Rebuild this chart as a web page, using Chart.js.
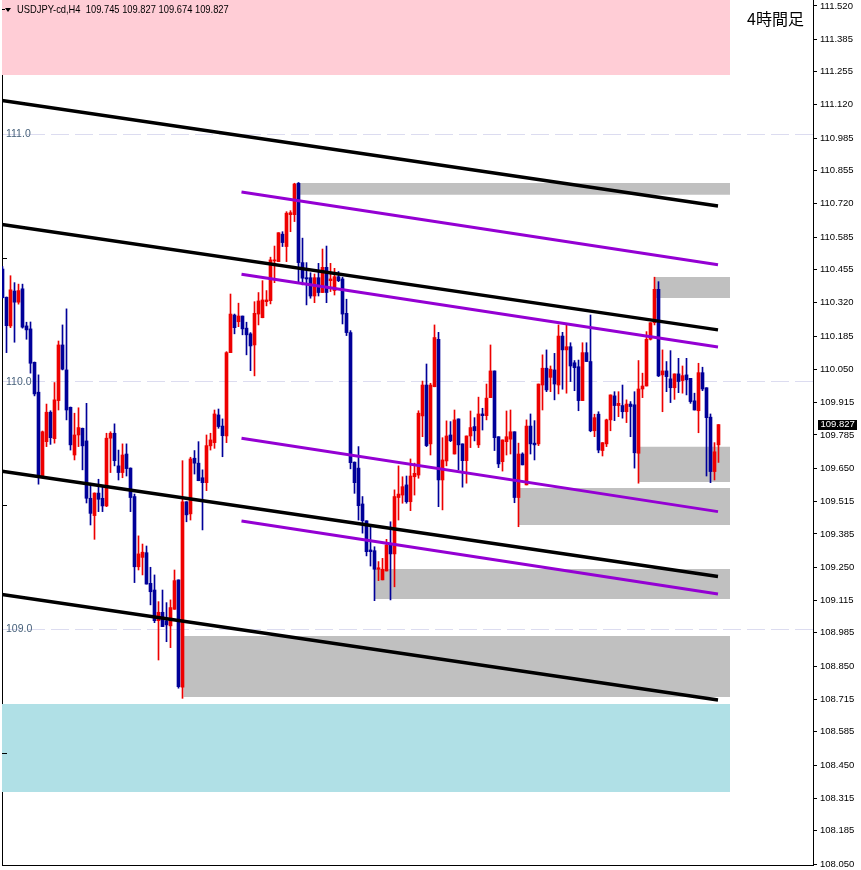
<!DOCTYPE html>
<html><head><meta charset="utf-8">
<script src="https://cdn.jsdelivr.net/npm/chart.js@4.4.1/dist/chart.umd.min.js"></script>
<style>html,body{margin:0;padding:0;background:#fff;}#wrap{position:relative;width:861px;height:870px;}</style>
</head><body><div id="wrap"><canvas id="c"></canvas></div>
<script>
// ---- candle data (USDJPY H4) ----
const openP = [110.456,110.342,110.226,110.367,110.322,110.376,110.226,110.214,110.079,109.958,
109.616,109.758,109.877,109.770,109.924,110.149,110.048,109.897,109.704,109.785,
109.812,109.761,109.529,109.459,109.550,109.529,109.498,109.772,109.792,109.660,
109.633,109.708,109.651,109.536,109.252,109.290,109.309,109.185,109.158,109.034,
109.068,109.034,109.013,109.080,109.199,108.765,109.515,109.466,109.691,109.671,
109.612,109.592,109.741,109.754,109.866,109.821,109.781,110.118,110.270,110.243,
110.266,110.217,110.194,110.149,110.274,110.259,110.324,110.328,110.489,110.486,
110.597,110.547,110.676,110.676,110.803,110.482,110.421,110.421,110.347,110.421,
110.361,110.463,110.409,110.369,110.425,110.416,110.277,110.199,109.675,109.651,
109.506,109.438,109.320,109.317,109.242,109.199,109.235,109.340,109.304,109.532,
109.542,109.583,109.515,109.616,109.623,109.862,109.987,109.749,109.980,110.172,
109.603,109.680,109.785,109.708,109.850,109.749,109.681,109.781,109.819,109.745,
109.870,109.863,109.936,110.044,109.778,109.677,109.758,109.768,109.798,109.532,
109.708,109.583,109.821,109.752,109.749,109.987,110.055,110.018,110.048,109.987,
110.185,110.129,110.142,110.077,110.061,109.924,110.118,110.082,109.802,109.869,
109.722,109.749,109.846,109.943,109.904,109.904,109.879,109.910,109.907,109.711,
109.971,109.983,110.172,110.239,110.374,110.028,110.044,110.012,109.976,110.032,
110.005,110.028,110.014,109.923,109.883,110.037,109.976,109.857,109.637,109.745];
const highP = [110.466,110.343,110.429,110.401,110.395,110.395,110.241,110.242,110.080,110.028,
109.801,109.910,109.883,109.997,110.165,110.230,110.295,109.898,109.873,109.895,
109.813,109.913,109.590,109.551,109.606,109.576,109.792,109.798,109.830,109.724,
109.749,109.749,109.652,109.546,109.377,109.344,109.336,109.250,109.219,109.111,
109.158,109.107,109.118,109.239,109.199,109.681,109.515,109.695,109.722,109.758,
109.644,109.785,109.792,109.886,109.890,109.850,110.122,110.355,110.274,110.318,
110.266,110.241,110.199,110.324,110.361,110.409,110.369,110.504,110.549,110.603,
110.607,110.688,110.692,110.803,110.806,110.581,110.482,110.441,110.436,110.479,
110.537,110.549,110.479,110.459,110.446,110.423,110.334,110.207,109.676,109.738,
109.536,109.438,109.414,109.333,109.273,109.286,109.363,109.434,109.563,109.660,
109.616,109.619,109.688,109.671,109.883,110.003,110.072,109.994,110.230,110.200,
109.774,109.842,109.839,109.886,109.850,109.749,109.781,109.882,109.855,109.938,
109.893,109.991,110.149,110.044,109.778,109.765,109.882,109.886,109.798,109.752,
109.713,109.846,109.870,109.843,109.991,110.109,110.129,110.064,110.115,110.230,
110.200,110.230,110.158,110.086,110.088,110.158,110.158,110.270,109.869,109.879,
109.754,109.849,109.947,109.960,109.960,109.987,109.927,109.920,109.960,110.086,
110.035,110.203,110.239,110.423,110.405,110.129,110.082,110.126,110.032,110.095,
110.064,110.095,110.014,109.954,110.075,110.059,109.976,109.870,109.754,109.827];
const lowP = [110.339,110.118,110.219,110.160,110.314,110.217,110.172,110.035,109.943,109.586,
109.615,109.738,109.747,109.752,109.886,110.048,109.846,109.724,109.684,109.738,
109.644,109.510,109.421,109.363,109.475,109.475,109.495,109.633,109.660,109.603,
109.612,109.619,109.475,109.188,109.239,109.219,109.182,109.098,109.026,108.875,
109.010,108.949,108.925,109.080,108.761,108.720,109.434,109.441,109.627,109.600,
109.401,109.560,109.724,109.731,109.812,109.697,109.754,110.118,110.194,110.223,
110.190,110.109,110.045,110.024,110.230,110.259,110.307,110.315,110.401,110.486,
110.547,110.486,110.607,110.648,110.405,110.392,110.311,110.338,110.320,110.347,
110.361,110.320,110.365,110.351,110.405,110.234,110.187,109.648,109.549,109.441,
109.388,109.296,109.255,109.115,109.196,109.199,109.235,109.118,109.171,109.441,
109.509,109.509,109.479,109.542,109.610,109.778,109.738,109.704,109.980,109.495,
109.482,109.660,109.758,109.708,109.644,109.574,109.590,109.734,109.761,109.734,
109.805,109.846,109.936,109.722,109.653,109.639,109.704,109.708,109.511,109.414,
109.664,109.583,109.708,109.684,109.742,109.886,109.960,109.960,109.927,109.951,
109.970,109.954,110.001,109.964,109.883,109.924,110.082,109.798,109.778,109.713,
109.700,109.738,109.802,109.843,109.859,109.853,109.835,109.778,109.651,109.590,
109.936,109.983,110.169,110.230,110.021,109.879,109.960,109.916,109.929,109.956,
109.954,109.947,109.913,109.886,109.794,109.964,109.619,109.592,109.603,109.674];
const closeP = [110.340,110.227,110.372,110.322,110.369,110.221,110.210,110.075,109.951,109.616,
109.798,109.877,109.774,109.927,110.149,110.051,109.886,109.745,109.785,109.815,
109.741,109.529,109.468,109.550,109.525,109.498,109.772,109.792,109.681,109.633,
109.704,109.649,109.532,109.252,109.304,109.311,109.182,109.151,109.034,109.068,
109.010,109.017,109.087,109.196,108.767,109.515,109.462,109.688,109.671,109.600,
109.592,109.742,109.765,109.870,109.819,109.782,110.118,110.274,110.219,110.266,
110.214,110.190,110.145,110.277,110.327,110.331,110.331,110.493,110.493,110.603,
110.563,110.682,110.684,110.800,110.482,110.419,110.416,110.347,110.421,110.361,
110.463,110.361,110.416,110.425,110.409,110.274,110.199,109.673,109.592,109.499,
109.438,109.313,109.313,109.242,109.248,109.242,109.340,109.304,109.536,109.546,
109.576,109.515,109.619,109.630,109.873,109.987,109.742,109.987,110.179,109.603,
109.684,109.781,109.762,109.846,109.745,109.681,109.781,109.815,109.802,109.870,
109.863,109.934,110.044,109.774,109.668,109.765,109.778,109.798,109.532,109.708,
109.664,109.821,109.749,109.745,109.991,110.055,109.967,110.051,109.991,110.185,
110.129,110.142,110.064,110.057,109.924,110.118,110.082,109.802,109.855,109.724,
109.754,109.846,109.947,109.904,109.913,109.879,109.910,109.900,109.713,109.971,
109.983,110.172,110.239,110.374,110.024,110.044,110.021,109.976,110.032,110.001,
110.025,110.008,109.920,109.886,110.037,109.971,109.855,109.637,109.717,109.827];

// ---- axis labels ----
const rightTickLabels = ['111.520','111.385','111.255','111.120','110.985','110.855','110.720','110.585','110.455',
'110.320','110.185','110.050','109.915','109.785','109.650','109.515','109.385','109.250','109.115','108.985',
'108.850','108.715','108.585','108.450','108.315','108.185','108.050'];
const leftLabelValues = [111.0, 110.0, 109.0];
const leftMinorValues = [110.5, 109.5, 108.5];
const titleText = 'USDJPY-cd,H4  109.745 109.827 109.674 109.827';
const timeframeText = '4時間足';

// ---- zones (bar index range, price range) ----
const zoneKind   = ['sell','buy','gray','gray','gray','gray','gray','gray'];
const zoneStart  = [-0.125, -0.125, 73.5, 162.9, 158.9, 128.9, 92.9, 45.2];
const zoneEnd    = [181.875,181.875,181.875,181.875,181.875,181.875,181.875,181.875];
const zoneTop    = [112.0, 108.697, 110.804, 110.424, 109.737, 109.571, 109.243, 108.972];
const zoneBottom = [111.241, 108.341, 110.756, 110.339, 109.595, 109.421, 109.122, 108.725];

// ---- trend lines (bar index, price) ----
const blackStartX = -0.125, blackEndX = 178.875;
const blackStartY = [111.138, 110.636, 109.638, 109.140];
const blackEndY   = [110.711, 110.210, 109.213, 108.713];
const purpleStartX = 59.75, purpleEndX = 178.875;
const purpleStartY = [110.768, 110.435, 109.772, 109.437];
const purpleEndY   = [110.473, 110.141, 109.475, 109.142];

// ---- styles ----
const UP = '#ee0000', DOWN = '#000099';
const zoneColor = {sell:'#ffcdd6', buy:'#b0e0e6', gray:'#c0c0c0'};
const axisFont = {family:'"Liberation Sans",Arial,sans-serif', size:9.5};
const Y_MIN = 108.046, Y_MAX = 111.544, X_MIN = -0.125, X_MAX = 202.625;

const idx = openP.map((_, i) => i);
const cols = idx.map(i => closeP[i] >= openP[i] ? UP : DOWN);

const datasets = [];
zoneKind.forEach((k, j) => {
  datasets.push({type:'line', data:[{x:zoneStart[j], y:zoneTop[j]},{x:zoneEnd[j], y:zoneTop[j]}],
    borderWidth:0, borderColor:'rgba(0,0,0,0)', pointRadius:0, backgroundColor:zoneColor[k],
    fill:{value:zoneBottom[j]}, order:5, xAxisID:'x', yAxisID:'y'});
});
datasets.push({type:'bar', data: idx.map(i => ({x:i, y:[lowP[i], highP[i]]})),
  backgroundColor: cols, barThickness:1, grouped:false, borderWidth:0, order:3, xAxisID:'x', yAxisID:'y'});
datasets.push({type:'bar', data: idx.map(i => ({x:i, y:[Math.min(openP[i],closeP[i]), Math.max(openP[i],closeP[i])]})),
  backgroundColor: cols, barThickness:3, grouped:false, borderWidth:0, minBarLength:1, order:2, xAxisID:'x', yAxisID:'y'});
blackStartY.forEach((v, j) => {
  datasets.push({type:'line', data:[{x:blackStartX, y:v},{x:blackEndX, y:blackEndY[j]}],
    borderColor:'#000', borderWidth:3.5, pointRadius:0, fill:false, order:0, xAxisID:'x', yAxisID:'y'});
});
purpleStartY.forEach((v, j) => {
  datasets.push({type:'line', data:[{x:purpleStartX, y:v},{x:purpleEndX, y:purpleEndY[j]}],
    borderColor:'#9400d3', borderWidth:3, pointRadius:0, fill:false, order:0, xAxisID:'x', yAxisID:'y'});
});

const decor = {
  id:'decor',
  afterDraw(chart){
    const ctx = chart.ctx, yS = chart.scales.y, a = chart.chartArea;
    ctx.save();
    ctx.strokeStyle = '#000'; ctx.lineWidth = 1;
    leftMinorValues.forEach(v => {
      const py = Math.round(yS.getPixelForValue(v)) + 0.5;
      ctx.beginPath(); ctx.moveTo(a.left, py); ctx.lineTo(a.left + 5, py); ctx.stroke();
    });
    ctx.fillStyle = '#000';
    ctx.beginPath(); ctx.moveTo(5, 8); ctx.lineTo(11, 8); ctx.lineTo(8, 12); ctx.closePath(); ctx.fill();
    ctx.beginPath(); ctx.moveTo(2, 9.5); ctx.lineTo(5, 9.5); ctx.stroke();
    ctx.textBaseline = 'middle'; ctx.textAlign = 'left';
    ctx.save();
    ctx.translate(17, 10); ctx.scale(0.85, 1);
    ctx.font = '11px "Liberation Sans",Arial,sans-serif';
    ctx.fillText(titleText, 0, 0);
    ctx.restore();
    ctx.font = '16px "Noto Sans CJK JP"';
    ctx.fillText(timeframeText, 747, 19);
    const last = closeP[closeP.length - 1];
    const py = yS.getPixelForValue(last);
    ctx.fillStyle = '#000'; ctx.fillRect(818, Math.round(py) - 5, 39, 10);
    ctx.fillStyle = '#fff'; ctx.font = '9.5px "Liberation Sans",Arial,sans-serif';
    ctx.fillText(last.toFixed(3), 820.5, py);
    ctx.restore();
  }
};

new Chart(document.getElementById('c'), {
  type:'bar',
  data:{datasets},
  options:{
    responsive:true, maintainAspectRatio:false, animation:false,
    layout:{padding:0},
    plugins:{legend:{display:false}, tooltip:{enabled:false}},
    scales:{
      x:{type:'linear', min:X_MIN, max:X_MAX, offset:false,
        ticks:{display:false}, grid:{display:false, drawTicks:false},
        border:{display:true, color:'#000', width:1},
        afterFit(s){ s.height = 5; s.paddingLeft = 0; s.paddingRight = 0; }},
      y:{type:'linear', position:'right', min:Y_MIN, max:Y_MAX,
        border:{display:true, color:'#000', width:1},
        grid:{drawOnChartArea:false, drawTicks:true, tickLength:4, color:'#000'},
        ticks:{autoSkip:false, padding:3, color:'#000', font:axisFont,
          callback:(v, i) => rightTickLabels[i]},
        afterBuildTicks(s){ s.ticks = rightTickLabels.map(t => ({value: parseFloat(t)})); },
        afterFit(s){ s.width = 48; s.paddingTop = 0; s.paddingBottom = 0; }},
      yL:{type:'linear', position:'left', min:Y_MIN, max:Y_MAX,
        grid:{drawOnChartArea:true, drawTicks:false, color:'#dcdcf0', lineWidth:1},
        border:{display:true, color:'#000', width:1, dash:[18,6]},
        ticks:{mirror:true, autoSkip:false, padding:4, color:'#46607a',
          font:{family:'"Liberation Sans",Arial,sans-serif', size:10.5},
          callback:(v) => v.toFixed(1)},
        afterBuildTicks(s){ s.ticks = leftLabelValues.map(v => ({value:v})); },
        afterFit(s){ s.width = 2; s.paddingTop = 0; s.paddingBottom = 0; }}
    }
  },
  plugins:[decor]
});
</script></body></html>
